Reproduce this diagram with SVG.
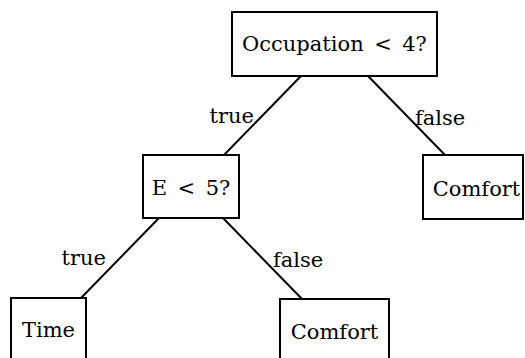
<svg xmlns="http://www.w3.org/2000/svg" width="525" height="358" viewBox="0 0 525 358">
<style>
.box{fill:#fff;stroke:#000;stroke-width:2}
.edge{stroke:#000;stroke-width:2;fill:none}
.t{font-family:"DejaVu Serif",serif;font-size:21px;fill:#000}
.c{text-anchor:middle}
.e{text-anchor:end}
</style>
<rect width="525" height="358" fill="#fff"/>
<g id="connectors">
<line class="edge" x1="301" y1="76" x2="224" y2="155"/>
<line class="edge" x1="368" y1="76" x2="445" y2="155"/>
<line class="edge" x1="159" y1="218" x2="81" y2="298"/>
<line class="edge" x1="223" y1="218" x2="302" y2="299"/>
<text class="t e" x="254" y="123">true</text>
<text class="t" x="415" y="125">false</text>
<text class="t e" x="106" y="265">true</text>
<text class="t" x="273" y="267">false</text>
</g>
<g id="n-root">
<rect class="box" x="232" y="12" width="205" height="64"/>
<text class="t c" x="334.5" y="51">Occupation&#x2002;&lt;&#x2002;4?</text>
</g>
<g id="n-e">
<rect class="box" x="143" y="155" width="96" height="63"/>
<text class="t c" x="191" y="195">E&#x2002;&lt;&#x2002;5?</text>
</g>
<g id="n-comfort-r">
<rect class="box" x="423" y="155" width="100" height="64"/>
<text class="t c" x="476.5" y="196">Comfort</text>
</g>
<g id="n-time">
<rect class="box" x="11" y="298" width="75" height="64"/>
<text class="t c" x="48.5" y="337">Time</text>
</g>
<g id="n-comfort-b">
<rect class="box" x="280" y="299" width="109" height="64"/>
<text class="t c" x="334.5" y="339">Comfort</text>
</g>
</svg>
